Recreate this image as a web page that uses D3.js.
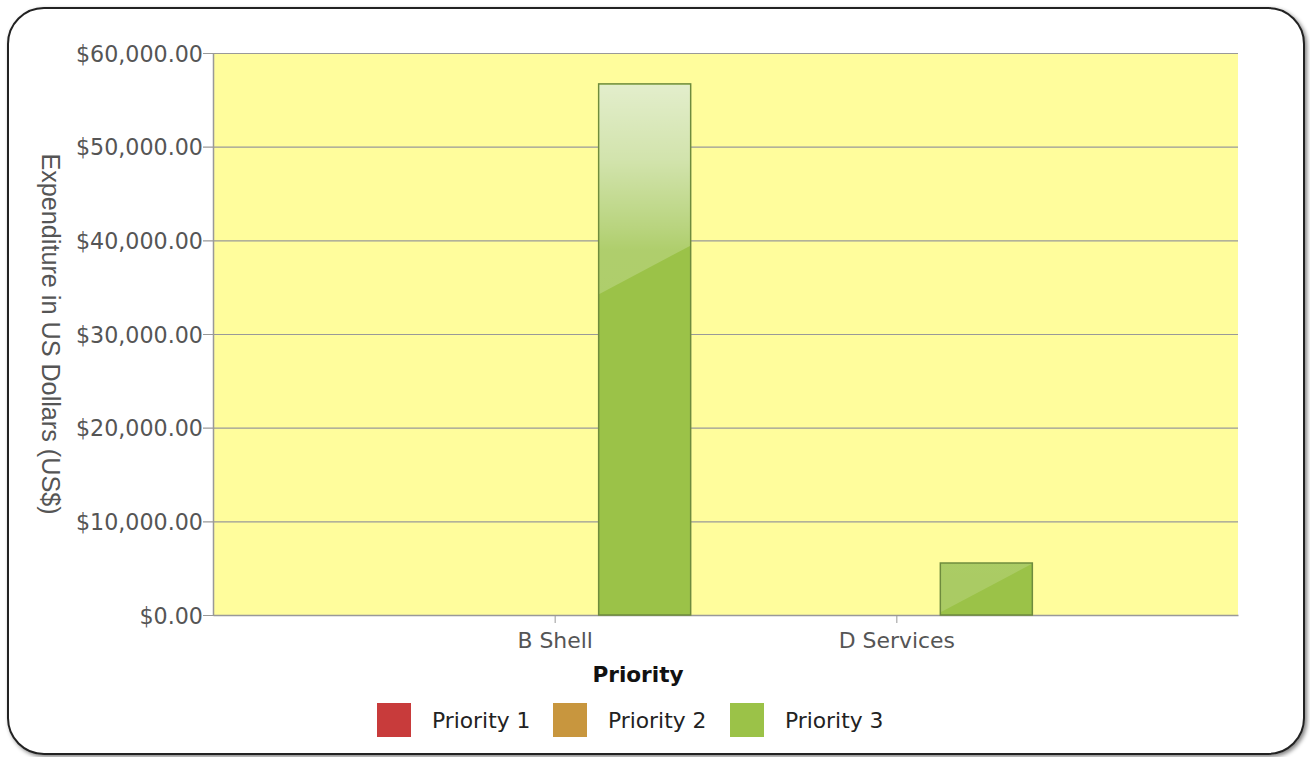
<!DOCTYPE html>
<html><head><meta charset="utf-8">
<script src="https://cdn.jsdelivr.net/npm/d3@7"></script>
<style>
html,body{margin:0;padding:0;background:#fff;}
svg{display:block;}
</style></head>
<body>
<script>
// ---- data ----
const categories = ["B Shell", "D Services"];
const seriesNames = ["Priority 1", "Priority 2", "Priority 3"];
const priority1 = [0, 0];
const priority2 = [0, 0];
const priority3 = [56700, 5550];
const seriesColors = ["#c83b3b", "#c8963e", "#9bc248"];
const yTicks = [0, 10000, 20000, 30000, 40000, 50000, 60000];
const yTitle = "Expenditure in US Dollars (US$)";
const xTitle = "Priority";

const seriesValues = [priority1, priority2, priority3];

const W = 1310, H = 757;
const m = {left: 213, right: 1238, top: 53, bottom: 615};
const font = "'DejaVu Sans',Verdana,sans-serif";

const svg = d3.select("body").append("svg").attr("width", W).attr("height", H);
const defs = svg.append("defs");

// frame shadow
const f = defs.append("filter").attr("id","sh").attr("x","-5%").attr("y","-5%").attr("width","110%").attr("height","110%");
f.append("feGaussianBlur").attr("in","SourceAlpha").attr("stdDeviation",2);
f.append("feOffset").attr("dx",2).attr("dy",2).attr("result","ob");
f.append("feComponentTransfer").append("feFuncA").attr("type","linear").attr("slope",0.5);
const fm = f.append("feMerge"); fm.append("feMergeNode"); fm.append("feMergeNode").attr("in","SourceGraphic");

svg.append("rect").attr("x",8).attr("y",8).attr("width",1296).attr("height",746)
  .attr("rx",36).attr("ry",36).attr("fill","#fff").attr("stroke","#222").attr("stroke-width",2)
  .attr("filter","url(#sh)");

// gloss gradient
const g = defs.append("linearGradient").attr("id","gloss").attr("gradientUnits","userSpaceOnUse")
  .attr("x1",0).attr("x2",0).attr("y1",m.top).attr("y2",m.bottom);
[[0,0.8],[0.055,0.72],[0.19,0.55],[0.31,0.3],[0.35,0.2],[1,0.15]].forEach(([o,a])=>{
  g.append("stop").attr("offset",o).attr("stop-color","#fff").attr("stop-opacity",a);
});

const y = d3.scaleLinear().domain([0, 60000]).range([m.bottom, m.top]);
const x0 = d3.scalePoint().domain(categories).range([m.left, m.right]).padding(1);
const x1 = d3.scaleBand().domain(seriesNames).range([-135, 135]);

// plot background
svg.append("rect").attr("x", m.left).attr("y", m.top).attr("width", m.right-m.left).attr("height", m.bottom-m.top)
  .attr("fill", "#fffd9c");

// grid
svg.append("g").selectAll("line").data(yTicks).join("line")
  .attr("x1", m.left-10).attr("x2", m.right).attr("y1", d=>y(d)+0.5).attr("y2", d=>y(d)+0.5)
  .attr("stroke", "#999").attr("stroke-width", 1.2);

// y axis
const yAxis = d3.axisLeft(y).tickValues(yTicks).tickSize(0).tickPadding(10)
  .tickFormat(d => "$" + d3.format(",.2f")(d));
const ya = svg.append("g").attr("transform", `translate(${m.left},0)`).call(yAxis);
ya.select(".domain").attr("stroke", "#999").attr("stroke-width",1.5);
ya.selectAll("text").attr("font-family", font).attr("font-size", 22.2).attr("fill", "#555").attr("dy","0.36em");

// x axis
const xAxis = d3.axisBottom(x0).tickSize(8).tickPadding(9).tickSizeOuter(0);
const xa = svg.append("g").attr("transform", `translate(0,${m.bottom})`).call(xAxis);
xa.select(".domain").attr("stroke", "#999").attr("stroke-width",1.5);
xa.selectAll(".tick line").attr("stroke", "#999");
xa.selectAll("text").attr("font-family", font).attr("font-size", 21.9).attr("fill", "#555");

// bars
const bars = [];
categories.forEach((c, ci) => {
  seriesNames.forEach((s, si) => {
    bars.push({cat: c, ser: s, si, v: seriesValues[si][ci]});
  });
});
const bw = x1.bandwidth() + 2;
const bg = svg.append("g");
bars.filter(d => d.v > 0).forEach(d => {
  const bx = x0(d.cat) + x1(d.ser) - 1;
  const top = y(d.v), h = y(0) - top;
  bg.append("rect").attr("x", bx).attr("y", top).attr("width", bw).attr("height", h)
    .attr("fill", seriesColors[d.si]).attr("stroke", "#6e8b3d").attr("stroke-width", 1.5);
  const leftY = top + Math.min(h - 3, 210);
  const rightY = Math.max(top, leftY - 48);
  bg.append("path")
    .attr("d", `M${bx+0.75},${top+0.75}L${bx+bw-0.75},${top+0.75}L${bx+bw-0.75},${rightY}L${bx+0.75},${leftY}Z`)
    .attr("fill", "url(#gloss)");
});

// y title
svg.append("text").attr("transform", `translate(42,${(m.top+m.bottom)/2}) rotate(90)`)
  .attr("text-anchor","middle").attr("font-family","'Liberation Sans',Arial,sans-serif")
  .attr("font-size", 25.2).attr("fill","#555").text(yTitle);

// x title
svg.append("text").attr("x", 638).attr("y", 682).attr("text-anchor","middle")
  .attr("font-family", font).attr("font-weight","bold").attr("font-size", 21.6).attr("fill","#111").text(xTitle);

// legend
const legX = [377, 553, 730];
const lg = svg.append("g");
seriesNames.forEach((s, i) => {
  lg.append("rect").attr("x", legX[i]).attr("y", 703).attr("width", 34).attr("height", 34).attr("fill", seriesColors[i]);
  lg.append("text").attr("x", legX[i] + 55).attr("y", 728).attr("font-family", font).attr("font-size", 21.8)
    .attr("fill", "#222").text(s);
});
</script>
</body></html>
